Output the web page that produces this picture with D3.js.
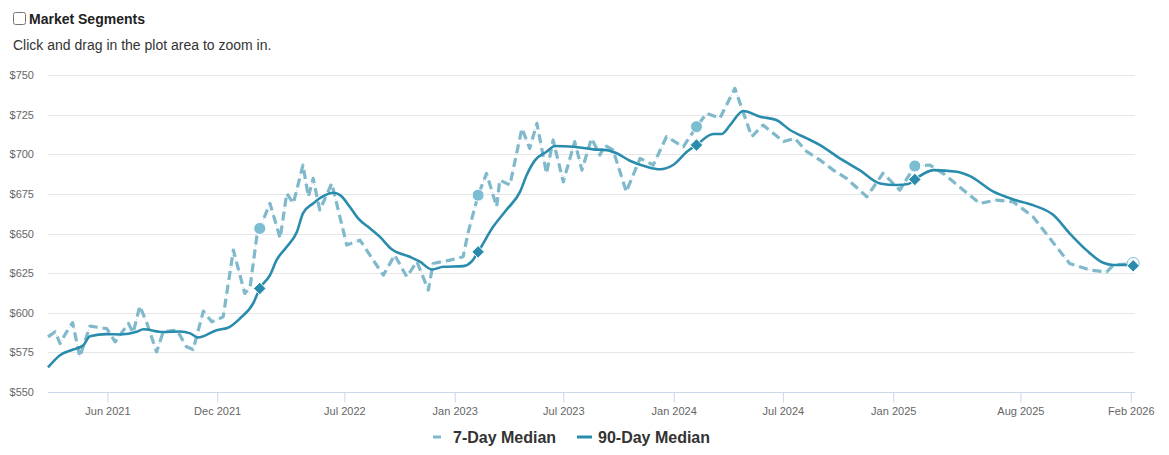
<!DOCTYPE html>
<html lang="en">
<head>
<meta charset="utf-8">
<title>Median rent</title>
<style>
body { margin: 0; font-family: "Liberation Sans", Arial, sans-serif; background: #fff; }
#seg { position: absolute; left: 13px; top: 11px; font-size: 14px; font-weight: bold; color: #222; }
#seg input { margin: 0 3px 0 0; width: 13px; height: 13px; vertical-align: -1px; }
#hint { position: absolute; left: 13px; top: 37px; font-size: 14px; color: #333; white-space: nowrap; }
svg { position: absolute; left: 0; top: 0; }
.grid line { stroke: #e6e6e6; }
.axis text { font-size: 11px; fill: #666; }
.legend text { font-size: 16px; font-weight: bold; fill: #333; }
</style>
</head>
<body>
<div id="seg"><label><input type="checkbox">Market Segments</label></div>
<div id="hint">Click and drag in the plot area to zoom in.</div>
<div id="chart"></div>
<script src="https://d3js.org/d3.v7.min.js"></script>
<script>
// 90-day median
var dates90 = ["2021-02-22","2021-03-14","2021-04-05","2021-04-22","2021-05-03","2021-05-31","2021-06-22","2021-07-20","2021-07-31","2021-09-02","2021-09-30","2021-10-17","2021-10-30","2021-11-30","2021-12-19","2022-01-08","2022-01-30","2022-02-10","2022-02-27","2022-03-10","2022-03-27","2022-04-13","2022-04-23","2022-05-10","2022-05-27","2022-06-13","2022-06-24","2022-07-10","2022-07-24","2022-08-13","2022-08-29","2022-09-18","2022-10-18","2022-11-04","2022-11-24","2022-12-13","2023-01-15","2023-01-29","2023-02-09","2023-03-06","2023-03-28","2023-04-20","2023-05-01","2023-05-15","2023-06-03","2023-06-17","2023-07-18","2023-08-20","2023-09-11","2023-09-28","2023-10-20","2023-11-17","2023-12-09","2023-12-31","2024-01-23","2024-02-08","2024-03-07","2024-03-21","2024-04-04","2024-04-26","2024-05-24","2024-06-20","2024-07-13","2024-08-10","2024-09-01","2024-10-04","2024-11-06","2024-12-10","2025-01-07","2025-01-26","2025-02-06","2025-03-09","2025-04-17","2025-05-09","2025-06-17","2025-07-20","2025-08-22","2025-09-25","2025-10-22","2025-11-19","2025-12-17","2026-01-03","2026-01-22","2026-02-05"];
var values90 = [565.5,573.2,576.8,579.5,585.2,586.5,586.3,588,589.6,587.8,588.2,587,584.4,589,590.5,596.4,605.9,615.3,623.7,633.2,641.6,651.1,662.7,669,673.6,675.7,674.2,666.9,659.5,653.2,648,640,635.3,632.2,627.3,629,629.4,632.2,638.4,654.2,664.8,676.4,686.9,696.3,701.6,705.2,704.7,703.1,702.6,700.6,695.9,692.1,690.5,693.2,701.6,705.8,712.8,712.8,718.4,727.3,723.7,721.6,715.3,710,705.8,697.4,690,681.6,680.6,681.2,684.1,690,689,686.2,676.4,671.5,667.9,661.6,650.1,639.5,631.5,630.1,630.1,629.6];

// 7-day median
var dates7 = ["2021-02-22","2021-03-06","2021-03-14","2021-03-22","2021-04-04","2021-04-16","2021-05-03","2021-05-31","2021-06-14","2021-07-06","2021-07-14","2021-07-25","2021-08-06","2021-08-22","2021-09-02","2021-09-25","2021-10-11","2021-10-22","2021-11-08","2021-11-22","2021-12-11","2021-12-28","2022-01-16","2022-01-25","2022-02-05","2022-02-10","2022-02-27","2022-03-16","2022-03-27","2022-04-07","2022-04-23","2022-05-02","2022-05-10","2022-05-21","2022-06-10","2022-07-05","2022-07-27","2022-09-04","2022-09-23","2022-10-13","2022-10-30","2022-11-18","2022-11-26","2022-12-24","2023-01-15","2023-01-23","2023-02-09","2023-02-23","2023-03-12","2023-03-17","2023-04-03","2023-04-23","2023-05-06","2023-05-18","2023-06-03","2023-06-14","2023-07-01","2023-07-20","2023-08-01","2023-08-17","2023-08-31","2023-09-08","2023-09-22","2023-10-14","2023-11-06","2023-11-28","2023-12-20","2024-01-17","2024-02-08","2024-02-25","2024-03-18","2024-04-12","2024-05-10","2024-05-29","2024-07-02","2024-07-21","2024-08-10","2024-09-01","2024-09-23","2024-10-15","2024-11-18","2024-12-15","2025-01-12","2025-02-06","2025-03-03","2025-03-25","2025-05-25","2025-06-22","2025-07-20","2025-08-22","2025-09-30","2025-10-22","2025-11-25","2025-12-23","2026-01-03","2026-02-05"];
var values7 = [584.8,588,580.6,586,593.8,572.2,591.6,590,581.6,593.3,587.4,604.2,593.3,575.3,588,589,578.5,576.8,601,594.3,597.4,639.5,612.2,616.4,648,653.2,669,647,675.3,669,693.2,673.2,684.8,664.8,681.6,642.7,645.8,623.7,636.4,622.7,632.2,614.3,631.1,633.2,635.3,650.1,674.2,687.9,666.9,683.7,680.6,716.3,703.7,719.5,687.9,709,682.6,708,690,710,699.5,705.8,702.6,676.4,697.4,693.2,711.1,704.7,717.4,725.8,722.7,741.6,711.1,718.4,708,710,701.6,696.3,690,684.8,673.2,688,677.4,692.6,693.2,688,669,671.1,670,660.6,641.6,631.1,626.9,625.8,630.1,631.1];

// yearly markers
var markerDates = ["2022-02-10","2023-02-09","2024-02-08","2025-02-06","2026-02-05"];

var yTicks = [550, 575, 600, 625, 650, 675, 700, 725, 750];
var xTicks = ["2021-06-01","2021-12-01","2022-07-01","2023-01-01","2023-07-01","2024-01-01","2024-07-01","2025-01-01","2025-08-01","2026-02-01"];

var parse = d3.utcParse("%Y-%m-%d");
var fmt = d3.utcFormat("%b %Y");

var s90 = dates90.map(function(d, i) { return { date: parse(d), value: values90[i] }; });
var s7 = dates7.map(function(d, i) { return { date: parse(d), value: values7[i] }; });
var marks = markerDates.map(function(d, i) {
    var k = dates7.indexOf(d), j = dates90.indexOf(d);
    return { date: parse(d), v7: values7[k], v90: values90[j], last: i === markerDates.length - 1 };
});

var W = 1169, H = 455;
var svg = d3.select("#chart").append("svg").attr("width", W).attr("height", H);

var x = d3.scaleUtc().domain([parse("2021-02-22"), parse("2026-02-08")]).range([48, 1135]);
var y = d3.scaleLinear().domain([550, 750]).range([392, 75]);

// grid
svg.append("g").attr("class", "grid")
    .selectAll("line").data(yTicks.slice(1)).enter().append("line")
    .attr("x1", 48).attr("x2", 1135)
    .attr("y1", function(d) { return Math.round(y(d)) + 0.5; })
    .attr("y2", function(d) { return Math.round(y(d)) + 0.5; });

// y axis labels
var ya = svg.append("g").attr("class", "axis").attr("transform", "translate(34,0)")
    .call(d3.axisLeft(y).tickValues(yTicks).tickSize(0).tickPadding(0).tickFormat(function(d) { return "$" + d; }));
ya.select(".domain").remove();

// x axis
var xa = svg.append("g").attr("class", "axis").attr("transform", "translate(0,392.5)")
    .call(d3.axisBottom(x).tickValues(xTicks.map(parse)).tickSize(10).tickPadding(5).tickFormat(fmt).tickSizeOuter(0));
xa.select(".domain").attr("stroke", "#ccd6eb").attr("d", "M48,0H1135");
xa.selectAll(".tick line").attr("stroke", "#ccd6eb");
xa.selectAll(".tick text").attr("fill", "#555");

var line = d3.line().x(function(d) { return x(d.date); }).y(function(d) { return y(d.value); });

// 7-day: faint connector + dashes
svg.append("path").datum(s7).attr("d", line.curve(d3.curveLinear))
    .attr("fill", "none").attr("stroke", "#8fc3d3").attr("stroke-width", 1)
    .attr("stroke-dasharray", "1,3").attr("opacity", 0.7);
svg.append("path").datum(s7).attr("d", line)
    .attr("fill", "none").attr("stroke", "#7fb9cb").attr("stroke-width", 3.2)
    .attr("stroke-dasharray", "9,5").attr("stroke-linejoin", "round");

// 90-day
svg.append("path").datum(s90).attr("d", line.curve(d3.curveMonotoneX))
    .attr("fill", "none").attr("stroke", "#2a8cad").attr("stroke-width", 2.6)
    .attr("stroke-linejoin", "round");

// markers
svg.selectAll(".c7").data(marks).enter().append("circle")
    .attr("cx", function(d) { return x(d.date); })
    .attr("cy", function(d) { return y(d.v7); })
    .attr("r", 6)
    .attr("fill", function(d) { return d.last ? "#fff" : "#7dbdd2"; })
    .attr("stroke", function(d) { return d.last ? "#7dbdd2" : "#fff"; })
    .attr("stroke-width", 1);

svg.selectAll(".d90").data(marks).enter().append("path")
    .attr("d", d3.symbol().type(d3.symbolDiamond2).size(100))
    .attr("transform", function(d) { return "translate(" + x(d.date) + "," + y(d.v90) + ")"; })
    .attr("fill", "#2a8cad").attr("stroke", "#fff").attr("stroke-width", 1);

// legend
var lg = svg.append("g").attr("class", "legend").attr("transform", "translate(0,437)");
lg.append("line").attr("x1", 433).attr("x2", 441).attr("y1", 0).attr("y2", 0)
    .attr("stroke", "#7fb9cb").attr("stroke-width", 3);
lg.append("text").attr("x", 453).attr("y", 6).text("7-Day Median");
lg.append("line").attr("x1", 577).attr("x2", 592).attr("y1", 0).attr("y2", 0)
    .attr("stroke", "#2a8cad").attr("stroke-width", 3);
lg.append("text").attr("x", 598).attr("y", 6).text("90-Day Median");
</script>
</body>
</html>
